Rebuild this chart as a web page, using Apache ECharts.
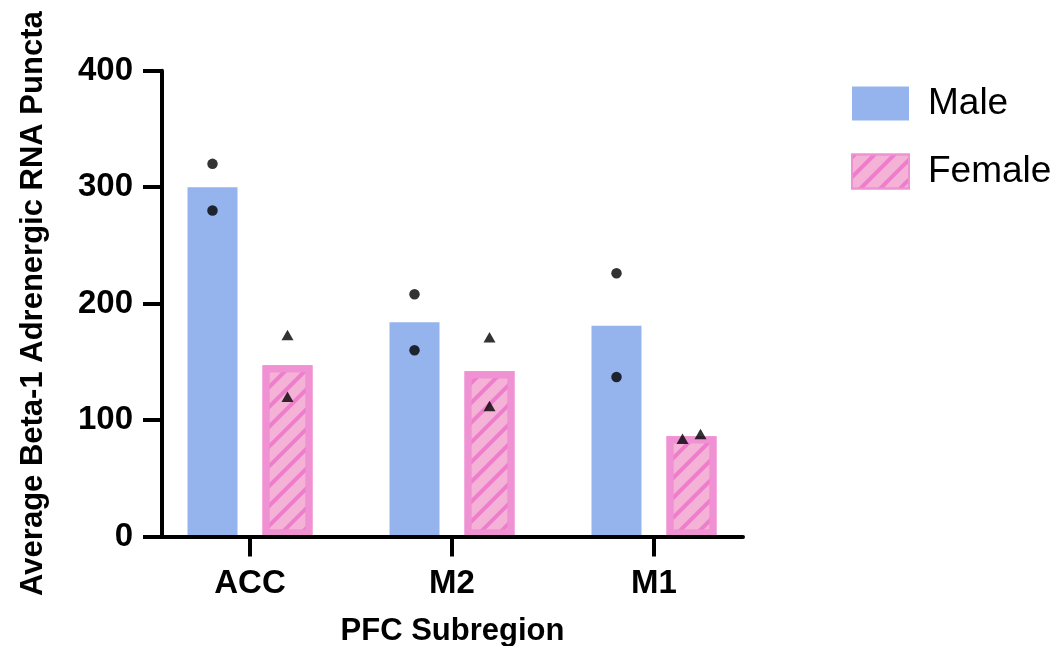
<!DOCTYPE html>
<html>
<head>
<meta charset="utf-8">
<script src="https://cdn.jsdelivr.net/npm/echarts@6/dist/echarts.min.js"></script>
<style>
html,body{margin:0;padding:0;background:#fff;}
#chart{width:1057px;height:646px;}
</style>
</head>
<body>
<div id="chart"></div>
<script>
const categories = ['ACC', 'M2', 'M1'];
const seriesNames = ['Male', 'Female'];
const maleMeans = [300, 184, 181];
const femaleMeans = [147, 142, 86];
const malePoints = [[320, 280], [208, 160], [226, 137]];
const femalePoints = [[173, 120], [171, 112], [84, 88]];
const yMin = 0, yMax = 400, yStep = 100;

// layout / style (not data)
const FONT = '"Liberation Sans", Arial, Helvetica, sans-serif';
const MALE_COLOR = '#95B3EC';
const FEMALE_FILL = '#F4B3D6';
const FEMALE_BORDER = '#F091D4';
const FEMALE_STRIPE = '#EE7DCB';
const maleJitter = [[0, 0], [0, 0], [0, 0]];
const femaleJitter = [[0, 0], [0, 0], [-9, 9]];
const GRID_TOP = 70.7, GRID_BOTTOM = 109.5;

function pointData(points, jitter, baseOffset) {
  const out = [];
  points.forEach((vals, i) => {
    vals.forEach((v, j) => {
      out.push({ value: [i, v], symbolOffset: [baseOffset + jitter[i][j], 0] });
    });
  });
  return out;
}

const chart = echarts.init(document.getElementById('chart'), null, { renderer: 'canvas' });
chart.setOption({
  animation: false,
  backgroundColor: '#fff',
  grid: [
    { left: 149, right: 302, top: GRID_TOP, bottom: GRID_BOTTOM, containLabel: false, outerBoundsMode: 'none' },
    { left: 162, right: 314, top: GRID_TOP, bottom: GRID_BOTTOM, containLabel: false, outerBoundsMode: 'none' }
  ],
  legend: {
    orient: 'vertical',
    left: 846,
    top: 80,
    itemWidth: 57,
    itemHeight: 34,
    itemGap: 31,
    icon: 'rect',
    data: seriesNames,
    textStyle: { fontSize: 37, color: '#000', fontFamily: FONT, padding: [0, 0, 0, 14] }
  },
  xAxis: [
    {
      gridIndex: 0,
      type: 'category',
      data: categories,
      boundaryGap: true,
      axisLine: { show: false },
      axisTick: { show: true, alignWithLabel: true, length: 20, lineStyle: { color: '#000', width: 4 } },
      axisLabel: { fontSize: 33, fontWeight: 'bold', color: '#000', fontFamily: FONT, margin: 31 },
      splitLine: { show: false },
      z: 10
    },
    {
      gridIndex: 1,
      type: 'value',
      min: 0, max: 1,
      name: 'PFC Subregion',
      nameLocation: 'middle',
      nameGap: 79,
      nameTextStyle: { fontSize: 31, fontWeight: 'bold', color: '#000', fontFamily: FONT },
      axisLine: { show: true, onZero: false, lineStyle: { color: '#000', width: 4 } },
      axisTick: { show: false },
      axisLabel: { show: false },
      splitLine: { show: false },
      z: 10
    }
  ],
  yAxis: [
    {
      gridIndex: 0,
      type: 'value',
      min: yMin, max: yMax, interval: yStep,
      show: false
    },
    {
      gridIndex: 1,
      type: 'value',
      min: yMin, max: yMax, interval: yStep,
      name: 'Average Beta-1 Adrenergic RNA Puncta',
      nameLocation: 'middle',
      nameRotate: 90,
      nameGap: 113,
      nameTextStyle: { fontSize: 31, fontWeight: 'bold', color: '#000', fontFamily: FONT },
      axisLine: { show: true, lineStyle: { color: '#000', width: 4 } },
      axisTick: { show: true, length: 19, lineStyle: { color: '#000', width: 4 } },
      axisLabel: { fontSize: 33, fontWeight: 'bold', color: '#000', fontFamily: FONT, margin: 29 },
      splitLine: { show: false },
      z: 10
    }
  ],
  series: [
    {
      name: 'Male',
      type: 'bar',
      xAxisIndex: 0, yAxisIndex: 0,
      data: maleMeans,
      barWidth: 50,
      barGap: '50%',
      itemStyle: { color: MALE_COLOR }
    },
    {
      name: 'Female',
      type: 'bar',
      xAxisIndex: 0, yAxisIndex: 0,
      data: femaleMeans,
      barWidth: 50,
      itemStyle: {
        color: FEMALE_FILL,
        borderColor: FEMALE_BORDER,
        borderWidth: 7,
        decal: {
          symbol: 'rect',
          symbolSize: 1,
          color: FEMALE_STRIPE,
          dashArrayX: [1, 0],
          dashArrayY: [4, 10],
          rotation: -Math.PI / 4
        }
      }
    },
    {
      name: 'Male points',
      type: 'scatter',
      xAxisIndex: 0, yAxisIndex: 0,
      symbol: 'circle',
      symbolSize: 10.5,
      itemStyle: { color: '#000' },
      data: pointData(malePoints, maleJitter, -37.5),
      z: 5
    },
    {
      name: 'Female points',
      type: 'scatter',
      xAxisIndex: 0, yAxisIndex: 0,
      symbol: 'triangle',
      symbolSize: [12, 10.5],
      itemStyle: { color: '#000' },
      data: pointData(femalePoints, femaleJitter, 37.5),
      z: 5
    }
  ]
});
</script>
</body>
</html>
